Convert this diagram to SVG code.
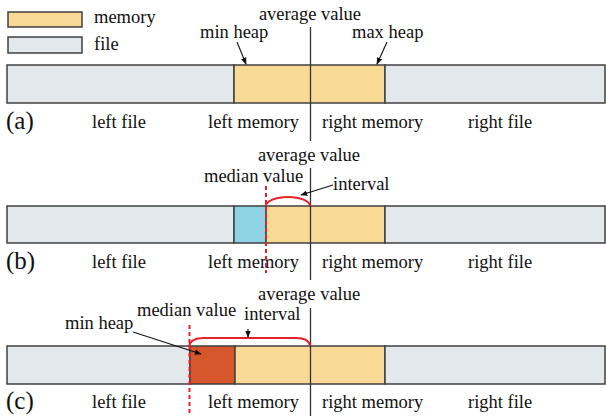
<svg xmlns="http://www.w3.org/2000/svg" width="606" height="416" viewBox="0 0 606 416">
<defs>
<style>
text{font-family:"Liberation Serif","Times New Roman",serif;font-size:18.5px;fill:#111}
.lbl{font-size:25px}
.mem{fill:#F8DA96;stroke:#404040;stroke-width:1.5}
.file{fill:#E2E8EB;stroke:#404040;stroke-width:1.5}
.blue{fill:#8ED3E4;stroke:#404040;stroke-width:1.5}
.hot{fill:#D6572B;stroke:#404040;stroke-width:1.5}
.avg{stroke:#333;stroke-width:1.3;fill:none}
.med{stroke:#E8202A;stroke-width:2;stroke-dasharray:4 3;fill:none}
.arc{stroke:#E8202A;stroke-width:2;fill:none}
.ptr{stroke:#111;stroke-width:1.1;fill:none;marker-end:url(#ah)}
</style>
<marker id="ah" viewBox="0 0 10 10" refX="9" refY="5" markerWidth="7" markerHeight="7" orient="auto" markerUnits="userSpaceOnUse">
<path d="M0,1 L10,5 L0,9 Z" fill="#111"/>
</marker>
</defs>
<rect width="606" height="416" fill="#fff"/>

<g id="legend">
<rect class="mem" x="8" y="12" width="74" height="15"/>
<text x="94" y="23">memory</text>
<rect class="file" x="8" y="37" width="74" height="16"/>
<text x="94" y="50">file</text>
</g>

<!-- Panel (a) -->
<g id="a-leftfile"><rect class="file" x="7" y="65" width="227" height="38"/></g>
<g id="a-memory"><rect class="mem" x="234" y="65" width="151" height="38"/></g>
<g id="a-rightfile"><rect class="file" x="385" y="65" width="220" height="38"/></g>
<g id="a-labels">
<text x="310" y="20" text-anchor="middle">average value</text>
<text x="200" y="38">min heap</text>
<text x="352" y="38">max heap</text>
<text class="lbl" x="6" y="129">(a)</text>
<text x="92" y="128">left file</text>
<text x="208" y="128">left memory</text>
<text x="322" y="128">right memory</text>
<text x="468" y="128">right file</text>
</g>

<!-- Panel (b) -->
<g id="b-leftfile"><rect class="file" x="7" y="206" width="227" height="37"/></g>
<g id="b-blue"><rect class="blue" x="234" y="206" width="32" height="37"/></g>
<g id="b-memory"><rect class="mem" x="266" y="206" width="119" height="37"/></g>
<g id="b-rightfile"><rect class="file" x="385" y="206" width="220" height="37"/></g>
<g id="b-labels">
<text x="309" y="161" text-anchor="middle">average value</text>
<text x="204" y="182">median value</text>
<text x="333" y="190">interval</text>
<text class="lbl" x="6" y="269">(b)</text>
<text x="92" y="268">left file</text>
<text x="208" y="268">left memory</text>
<text x="322" y="268">right memory</text>
<text x="468" y="268">right file</text>
</g>

<!-- Panel (c) -->
<g id="c-leftfile"><rect class="file" x="7" y="346" width="183" height="38"/></g>
<g id="c-minheap"><rect class="hot" x="190" y="346" width="45" height="38"/></g>
<g id="c-memory"><rect class="mem" x="235" y="346" width="150" height="38"/></g>
<g id="c-rightfile"><rect class="file" x="385" y="346" width="220" height="38"/></g>
<g id="c-labels">
<text x="258" y="300">average value</text>
<text x="137" y="316">median value</text>
<text x="244" y="320">interval</text>
<text x="65" y="329">min heap</text>
<text class="lbl" x="6" y="409">(c)</text>
<text x="92" y="408">left file</text>
<text x="208" y="408">left memory</text>
<text x="322" y="408">right memory</text>
<text x="468" y="408">right file</text>
</g>

<g id="connectors">
<line class="avg" x1="310.5" y1="27" x2="310.5" y2="141"/>
<line class="avg" x1="310.5" y1="168" x2="310.5" y2="280"/>
<line class="avg" x1="310.5" y1="308" x2="310.5" y2="416"/>
<line class="med" x1="266" y1="186" x2="266" y2="273"/>
<line class="med" x1="189.5" y1="325" x2="189.5" y2="416"/>
<path class="arc" d="M266,206 A22,9 0 0 1 310,206"/>
<path class="arc" d="M189,347 Q190,338 204,338 L296,338 Q309,338 310,346"/>
<line class="ptr" x1="237" y1="42" x2="246" y2="64"/>
<line class="ptr" x1="387" y1="42" x2="377" y2="64"/>
<line class="ptr" x1="333" y1="185" x2="301" y2="195"/>
<line class="ptr" x1="248" y1="329" x2="248" y2="337"/>
<line class="ptr" x1="133" y1="332" x2="201" y2="354"/>
</g>
</svg>
